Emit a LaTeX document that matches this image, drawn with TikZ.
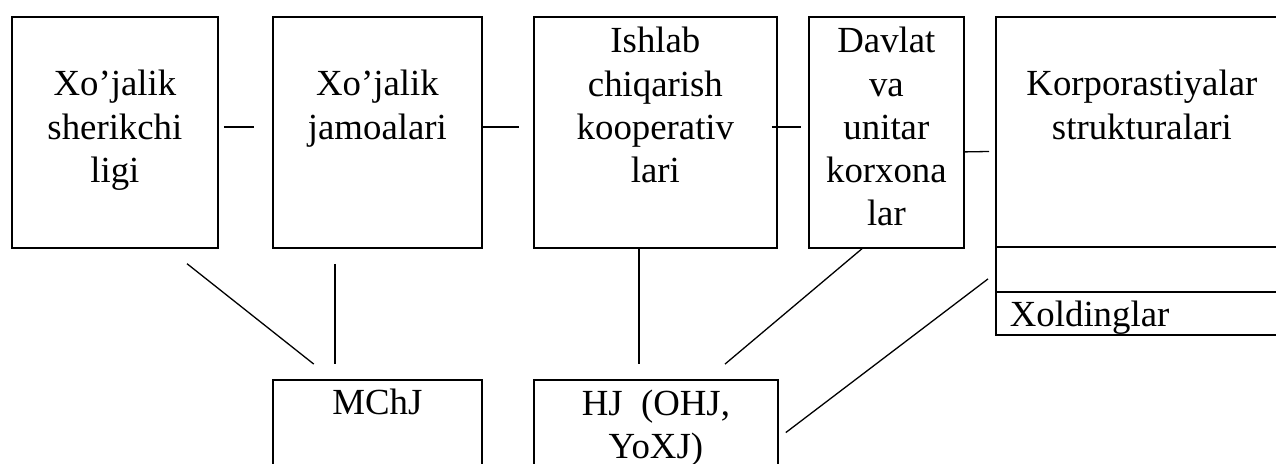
\documentclass[tikz,border=0pt]{standalone}
\usepackage{fontspec}
\setmainfont{Liberation Serif}
\usetikzlibrary{positioning}

\begin{document}
\begin{tikzpicture}[x=0.5pt,y=-0.5pt,
  box/.style={draw,line width=0.9pt,anchor=north west,minimum height=115.5pt,inner sep=0pt},
  low/.style={box,minimum height=58pt},
  txt/.style={align=center,inner sep=0pt,font=\fontsize{18.4}{21.6}\selectfont},
  link/.style={line width=0.65pt}]
\useasboundingbox (0,0) rectangle (1276,464);
\clip (0,0) rectangle (1276,464);
\node [box,minimum width=103pt] (xs) at (11,16) {};
\node [box,minimum width=104.5pt] (xj) at (272,16) {};
\node [box,minimum width=121.5pt] (ik) at (533,16) {};
\node [box,minimum width=77.5pt] (dv) at (808,16) {};
\node [box,minimum width=146pt,minimum height=115pt] (ks) at (995,16) {};
\node [box,minimum width=146pt,minimum height=22.5pt] (bo) at (995,246) {};
\node [box,minimum width=146pt,minimum height=21.5pt,text width=132pt,inner xsep=7pt,
  align=left,text depth=0pt,font=\fontsize{18.4}{21.6}\selectfont] (xo) at (995,291) {Xoldinglar};
\node [low,minimum width=104.5pt] (mc) at (272,379) {};
\node [low,minimum width=122pt] (hj) at (533,379) {};

\node [txt,below=27pt of xs.north] (t1) {Xo’jalik\\sherikchi\\ligi};
\node [txt,below=27pt of xj.north] (t2) {Xo’jalik\\jamoalari};
\node [txt,below=5.5pt of ik.north] (t3) {Ishlab\\chiqarish\\kooperativ\\lari};
\node [txt,below=5.5pt of dv.north] (t4) {Davlat\\va\\unitar\\korxona\\lar};
\node [txt,below=27pt of ks.north] (t5) {Korporastiyalar\\strukturalari};
\node [txt,below=5pt of mc.north] (t6) {MChJ};
\node [txt,below=5.5pt of hj.north,font=\fontsize{18.4}{21.2}\selectfont] (t7) {HJ~~(OHJ,\\YoXJ)};

\draw [link,shorten <=2.5pt,shorten >=9pt] ([yshift=2.75pt]xs.east) -- ([yshift=2.75pt]xj.west);
\draw [link,shorten >=7pt] ([yshift=2.75pt]xj.east) -- ([yshift=2.75pt]ik.west);
\draw [link,shorten <=-3pt,shorten >=3.5pt] ([yshift=2.75pt]ik.east) -- ([yshift=2.75pt]dv.west);
\draw [link,shorten >=3pt] ([yshift=-9.75pt]dv.east) -- ([yshift=-9.75pt]ks.west);
\draw [link,shorten <=12pt,shorten >=12pt] ([xshift=26.65pt]xs.south) -- ([xshift=-22.4pt]mc.north);
\draw [link,shorten <=7.5pt,shorten >=7.5pt] ([xshift=-21.25pt]xj.south) -- ([xshift=-21.25pt]mc.north);
\draw [link,shorten >=7.5pt] ([xshift=-8.25pt]ik.south) -- ([xshift=-8.5pt]hj.north);
\draw [link,shorten >=11.6pt] ([xshift=-12.25pt]dv.south) -- ([xshift=25.7pt]hj.north);
\draw [link,shorten <=4.4pt,shorten >=4.4pt] ([yshift=-2.1pt]bo.west) -- (hj.east);
\end{tikzpicture}
\end{document}
